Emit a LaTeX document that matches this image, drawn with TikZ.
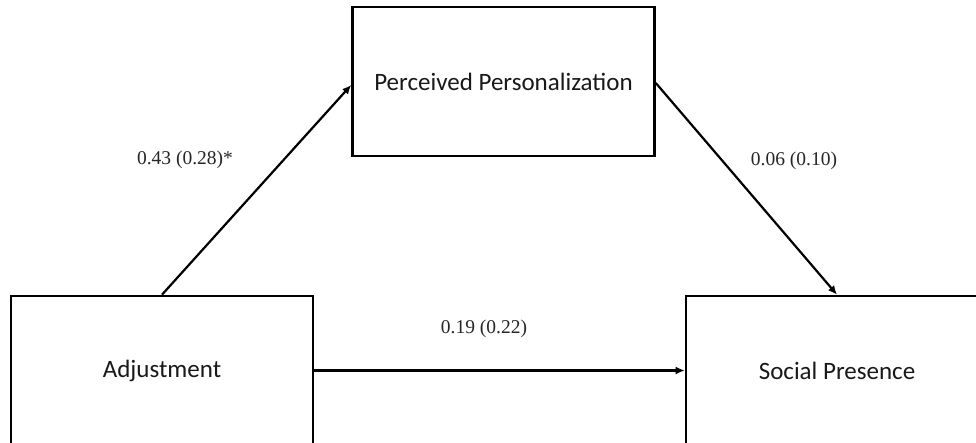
\documentclass[tikz,border=0pt]{standalone}
\usepackage{fontspec}
\setmainfont{Liberation Serif}
\newfontfamily\boxfont{Carlito}
\usetikzlibrary{arrows.meta}
\begin{document}
\begin{tikzpicture}[x=1pt,y=-1pt,
  varbox/.style={draw=black, line width=2.6pt, minimum width=302pt, minimum height=149pt, inner sep=0pt, font=\boxfont\fontsize{25}{30}\selectfont, text=black!90},
  pathline/.style={line width=2.2pt, -{Latex[length=9pt,width=8pt]}},
  coef/.style={font=\fontsize{19.5}{23}\selectfont, text=black!85, inner sep=0pt}]
\useasboundingbox (0,0) rectangle (976,443);
\clip (0,0) rectangle (976,443);
\fill[white] (0,0) rectangle (976,443);
\node[varbox] (adj) at (162,370.5) {Adjustment};
\node[varbox] (perc) at (503.5,81.5) {Perceived Personalization};
\node[varbox] (soc) at (837,370.5) {Social Presence};
\draw[pathline] (adj.north) -- ([yshift=-3.5pt]perc.west);
\draw[pathline] ([yshift=-1.5pt]perc.east) -- (soc.north);
\draw[pathline] (adj.east) -- (soc.west);
\node[coef] (c1) at (185,160) {0.43 (0.28)*};
\node[coef] (c2) at (794,161) {0.06 (0.10)};
\node[coef] (c3) at (484,329) {0.19 (0.22)};
\end{tikzpicture}
\end{document}
